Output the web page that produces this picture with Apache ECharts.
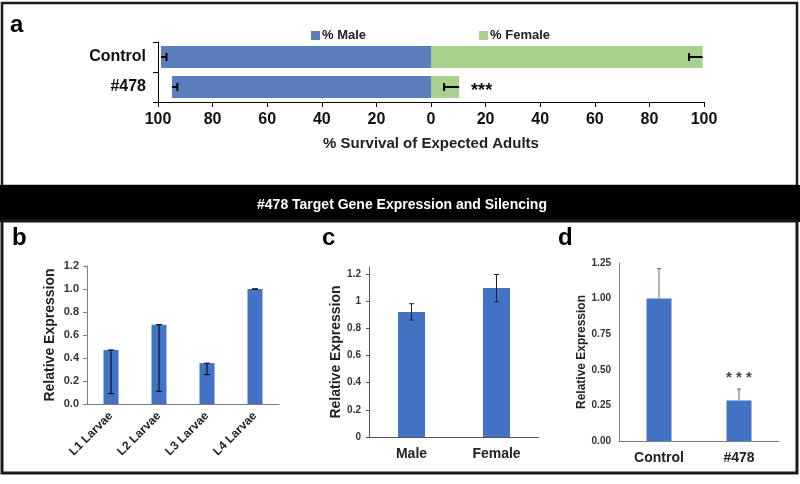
<!DOCTYPE html>
<html>
<head>
<meta charset="utf-8">
<script src="https://cdn.jsdelivr.net/npm/echarts@6/dist/echarts.min.js"></script>
<style>
  html, body { margin: 0; padding: 0; background: #fff; }
  #chart { width: 800px; height: 484px; }
</style>
</head>
<body>
<div id="chart"></div>
<script>
// ---------- DATA ----------
// Panel a: % survival of expected adults
const survivalCategories = ['Control', '#478'];
const maleSurvival = [98.9, 94.9];
const maleSurvivalErr = [2, 2];
const femaleSurvival = [99.5, 10.3];
const femaleSurvivalErr = [5, 5.5];
const survivalSig = ['', '***'];
const survivalTicks = [-100, -80, -60, -40, -20, 0, 20, 40, 60, 80, 100];

// Panel b: larval stages
const larvaeCategories = ['L1 Larvae', 'L2 Larvae', 'L3 Larvae', 'L4 Larvae'];
const larvaeExpr = [0.47, 0.69, 0.355, 1.0];
const larvaeErr = [0.38, 0.58, 0.10, 0];
const larvaeTicks = [0, 0.2, 0.4, 0.6, 0.8, 1.0, 1.2];

// Panel c: sex
const sexCategories = ['Male', 'Female'];
const sexExpr = [0.92, 1.095];
const sexErr = [0.06, 0.10];
const sexTicks = [0, 0.2, 0.4, 0.6, 0.8, 1, 1.2];

// Panel d: silencing
const silencingCategories = ['Control', '#478'];
const silencingExpr = [1.0, 0.285];
const silencingErr = [0.21, 0.08];
const silencingSig = ['', '* * *'];
const silencingTicks = [0, 0.25, 0.5, 0.75, 1.0, 1.25];

// ---------- HELPERS ----------
const FONT = '"Liberation Sans", Arial, sans-serif';
const BLUE_A = '#5b7fbc';
const GREEN_A = '#a9d18e';
const BLUE = '#4472c4';

// error bar custom series; data: vertical -> [cat, lo, hi], horizontal -> [lo, cat, hi]
function errorSeries(opts) {
  return {
    type: 'custom',
    xAxisIndex: opts.axis, yAxisIndex: opts.axis,
    z: 10, silent: true, clip: false,
    encode: { x: 0, y: 1 },
    data: opts.data,
    renderItem: function (params, api) {
      let p1, p2;
      if (opts.horizontal) {
        p1 = api.coord([api.value(0), api.value(1)]);
        p2 = api.coord([api.value(2), api.value(1)]);
      } else {
        p1 = api.coord([api.value(0), api.value(1)]);
        p2 = api.coord([api.value(0), api.value(2)]);
      }
      const style = { stroke: opts.color, lineWidth: opts.width || 1 };
      const h = opts.cap / 2;
      const children = [{ type: 'line', shape: { x1: p1[0], y1: p1[1], x2: p2[0], y2: p2[1] }, style: style }];
      const capAt = function (p) {
        if (opts.horizontal) children.push({ type: 'line', shape: { x1: p[0], y1: p[1] - h, x2: p[0], y2: p[1] + h }, style: style });
        else children.push({ type: 'line', shape: { x1: p[0] - h, y1: p[1], x2: p[0] + h, y2: p[1] }, style: style });
      };
      if (opts.caps.indexOf('lo') >= 0) capAt(p1);
      if (opts.caps.indexOf('hi') >= 0) capAt(p2);
      return { type: 'group', children: children };
    }
  };
}

function valueAxisLabel(size, color, fmt) {
  return { fontFamily: FONT, fontWeight: 'bold', fontSize: size, color: color, formatter: fmt };
}

// ---------- OPTION ----------
const option = {
  animation: false,
  backgroundColor: '#fff',
  textStyle: { fontFamily: FONT },
  graphic: [
    { type: 'rect', shape: { x: 2, y: 3, width: 795, height: 183 }, style: { fill: 'none', stroke: '#1a1a1a', lineWidth: 2.5 }, z: 100 },
    { type: 'rect', shape: { x: 0, y: 185, width: 800, height: 37 }, style: { fill: '#000' }, z: 100 },
    { type: 'text', x: 402, y: 205, style: { text: '#478 Target Gene Expression and Silencing', fill: '#fff', font: 'bold 14px ' + FONT, textAlign: 'center', textVerticalAlign: 'middle' }, z: 101 },
    { type: 'rect', shape: { x: 2, y: 221, width: 795, height: 252 }, style: { fill: 'none', stroke: '#1a1a1a', lineWidth: 3 }, z: 100 },
    { type: 'text', x: 10, y: 25, style: { text: 'a', fill: '#000', font: 'bold 24px ' + FONT, textVerticalAlign: 'middle' } },
    { type: 'text', x: 12, y: 238, style: { text: 'b', fill: '#000', font: 'bold 24px ' + FONT, textVerticalAlign: 'middle' } },
    { type: 'text', x: 322, y: 238, style: { text: 'c', fill: '#000', font: 'bold 24px ' + FONT, textVerticalAlign: 'middle' } },
    { type: 'text', x: 558, y: 238, style: { text: 'd', fill: '#000', font: 'bold 24px ' + FONT, textVerticalAlign: 'middle' } }
  ],
  legend: {
    left: 306, top: 24, itemWidth: 9, itemHeight: 9, itemGap: 113, icon: 'rect',
    data: ['% Male', '% Female'],
    textStyle: { fontFamily: FONT, fontWeight: 'bold', fontSize: 13, color: '#222', padding: [0, 0, 0, -3] }
  },
  grid: [
    { left: 158, right: 96, top: 42, height: 60 },
    { left: 87, top: 266, width: 192, height: 138 },
    { left: 369, top: 267, width: 170, height: 170 },
    { left: 619, top: 263, width: 160, height: 178 }
  ],
  xAxis: [
    {
      gridIndex: 0, type: 'value', min: -100, max: 100,
      axisLine: { show: true, onZero: false, lineStyle: { color: '#000', width: 1 } },
      axisTick: { show: true, length: 5, lineStyle: { color: '#000' }, customValues: survivalTicks },
      splitLine: { show: false },
      axisLabel: Object.assign(valueAxisLabel(16, '#111', v => String(Math.abs(v))), { margin: 10, customValues: survivalTicks }),
      name: '% Survival of Expected Adults', nameLocation: 'middle', nameGap: 34,
      nameTextStyle: { fontFamily: FONT, fontWeight: 'bold', fontSize: 15, color: '#222' }
    },
    {
      gridIndex: 1, type: 'category', data: larvaeCategories,
      axisLine: { lineStyle: { color: '#7f7f7f' } }, axisTick: { show: false },
      axisLabel: { rotate: 45, margin: 10, fontFamily: FONT, fontWeight: 'bold', fontSize: 12, color: '#222', interval: 0 }
    },
    {
      gridIndex: 2, type: 'category', data: sexCategories,
      axisLine: { lineStyle: { color: '#555' } }, axisTick: { show: false },
      axisLabel: { margin: 10, fontFamily: FONT, fontWeight: 'bold', fontSize: 14, color: '#222' }
    },
    {
      gridIndex: 3, type: 'category', data: silencingCategories,
      axisLine: { lineStyle: { color: '#7f7f7f' } }, axisTick: { show: false },
      axisLabel: { margin: 10, fontFamily: FONT, fontWeight: 'bold', fontSize: 14, color: '#222' }
    }
  ],
  yAxis: [
    {
      gridIndex: 0, type: 'category', data: survivalCategories, inverse: true,
      axisLine: { onZero: false, lineStyle: { color: '#000' } },
      axisTick: { show: true, length: 5, inside: false, lineStyle: { color: '#000' } },
      axisLabel: { margin: 12, fontFamily: FONT, fontWeight: 'bold', fontSize: 16, color: '#111' }
    },
    {
      gridIndex: 1, type: 'value', min: 0, max: 1.2, interval: 0.2,
      axisLine: { show: true, lineStyle: { color: '#7f7f7f' } },
      axisTick: { show: true, length: 4, lineStyle: { color: '#7f7f7f' } },
      splitLine: { show: false },
      axisLabel: valueAxisLabel(11, '#333', v => v.toFixed(1)),
      name: 'Relative Expression', nameLocation: 'middle', nameGap: 30, nameRotate: 90,
      nameTextStyle: { fontFamily: FONT, fontWeight: 'bold', fontSize: 14, color: '#222' }
    },
    {
      gridIndex: 2, type: 'value', min: 0, max: 1.25,
      axisLine: { show: true, lineStyle: { color: '#555' } },
      axisTick: { show: true, length: 3, lineStyle: { color: '#555' }, customValues: sexTicks },
      splitLine: { show: false },
      axisLabel: Object.assign(valueAxisLabel(10, '#333', v => String(Math.round(v * 10) / 10)), { customValues: sexTicks }),
      name: 'Relative Expression', nameLocation: 'middle', nameGap: 25, nameRotate: 90,
      nameTextStyle: { fontFamily: FONT, fontWeight: 'bold', fontSize: 14, color: '#222' }
    },
    {
      gridIndex: 3, type: 'value', min: 0, max: 1.25, interval: 0.25,
      axisLine: { show: true, lineStyle: { color: '#7f7f7f' } },
      axisTick: { show: false },
      splitLine: { show: false },
      axisLabel: valueAxisLabel(10, '#333', v => v.toFixed(2)),
      name: 'Relative Expression', nameLocation: 'middle', nameGap: 30, nameRotate: 90,
      nameTextStyle: { fontFamily: FONT, fontWeight: 'bold', fontSize: 12, color: '#222' }
    }
  ],
  series: [
    {
      name: '% Male', type: 'bar', xAxisIndex: 0, yAxisIndex: 0, barWidth: 22, barGap: '-100%',
      itemStyle: { color: BLUE_A },
      data: maleSurvival.map(v => -v)
    },
    {
      name: '% Female', type: 'bar', xAxisIndex: 0, yAxisIndex: 0, barWidth: 22,
      itemStyle: { color: GREEN_A },
      data: femaleSurvival.map((v, i) => ({
        value: v,
        label: { show: !!survivalSig[i], formatter: survivalSig[i], position: 'right', distance: 12, offset: [0, 4],
                 fontFamily: FONT, fontWeight: 'bold', fontSize: 18, color: '#111' }
      }))
    },
    errorSeries({ axis: 0, horizontal: true, color: '#000', width: 2, cap: 8, caps: ['hi'],
      data: maleSurvival.map((v, i) => [-v, i, -(v - maleSurvivalErr[i])]) }),
    errorSeries({ axis: 0, horizontal: true, color: '#000', width: 2, cap: 8, caps: ['hi'],
      data: femaleSurvival.map((v, i) => [v, i, v - femaleSurvivalErr[i]]) }),

    { type: 'bar', xAxisIndex: 1, yAxisIndex: 1, barWidth: 15, itemStyle: { color: BLUE }, data: larvaeExpr },
    errorSeries({ axis: 1, color: '#000', width: 1, cap: 6, caps: ['lo', 'hi'],
      data: larvaeExpr.map((v, i) => [i, v - larvaeErr[i], v]) }),

    { type: 'bar', xAxisIndex: 2, yAxisIndex: 2, barWidth: 27, itemStyle: { color: BLUE }, data: sexExpr },
    errorSeries({ axis: 2, color: '#222', width: 1, cap: 5, caps: ['lo', 'hi'],
      data: sexExpr.map((v, i) => [i, v - sexErr[i], v + sexErr[i]]) }),

    {
      type: 'bar', xAxisIndex: 3, yAxisIndex: 3, barWidth: 25, itemStyle: { color: BLUE },
      data: silencingExpr.map((v, i) => ({
        value: v,
        label: { show: !!silencingSig[i], formatter: silencingSig[i], position: 'top', distance: 15,
                 fontFamily: FONT, fontWeight: 'bold', fontSize: 15, color: '#444' }
      }))
    },
    errorSeries({ axis: 3, color: '#666', width: 1, cap: 4, caps: ['hi'],
      data: silencingExpr.map((v, i) => [i, v, v + silencingErr[i]]) })
  ]
};

const chart = echarts.init(document.getElementById('chart'), null, { renderer: 'canvas' });
chart.setOption(option);
</script>
</body>
</html>
